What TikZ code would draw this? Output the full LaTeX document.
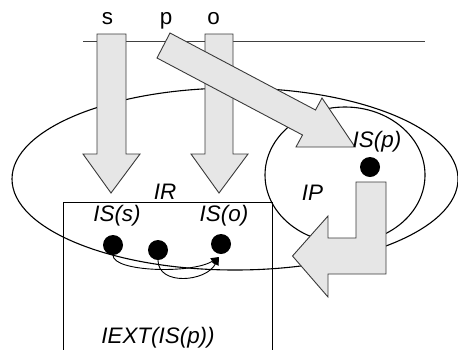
\documentclass[tikz,border=0pt]{standalone}
\usepackage{fontspec}
\setmainfont{Liberation Sans}
\usetikzlibrary{arrows.meta}
\definecolor{afill}{HTML}{E6E6E6}
\definecolor{aline}{HTML}{3A3A3A}
\begin{document}
\begin{tikzpicture}[x=1bp,y=-1bp,
  blockarrow/.style={fill=afill,draw=aline,line width=0.9bp,line join=miter},
  shapeline/.style={draw=black,line width=1.1bp},
  thinline/.style={draw=black!75,line width=0.9bp},
  dotnode/.style={circle,fill=black,minimum size=20bp,inner sep=0pt},
  lbl/.style={font=\fontsize{22.5}{26}\selectfont\itshape,inner sep=0pt,anchor=base},
  toplbl/.style={font=\fontsize{22.5}{26}\selectfont,inner sep=0pt,anchor=base},
  link/.style={line width=0.9bp,-{Triangle[length=8bp,width=7bp]}}]
\useasboundingbox (0,0) rectangle (458,349);
\clip (0,0) rectangle (458,349);
% horizontal line
\coordinate (hl) at (83,41.7);
\coordinate (hr) at (425,41.7);
\draw[thinline] (hl) -- (hr);
% ellipses
\draw[shapeline] (235,179) ellipse [x radius=223, y radius=91];
\draw[shapeline] (345,175) ellipse [x radius=80, y radius=68];
% rectangle IEXT
\draw[shapeline,line width=0.9bp] (63.5,352) -- (63.5,202) -- (272.3,202) -- (272.3,352);
% s arrow
\draw[blockarrow] (97,34) -- (97,154) -- (83,154) -- (111,193) -- (140,154) -- (126,154) -- (126,34) -- cycle;
% o arrow
\draw[blockarrow] (205,34) -- (205,154) -- (191,154) -- (219,193) -- (248,154) -- (233,154) -- (233,34) -- cycle;
% p arrow
\draw[blockarrow] (170,33) -- (315.5,110) -- (322,98) -- (355,147) -- (296,147) -- (302.5,135) -- (157,58) -- cycle;
% L arrow
\draw[blockarrow] (356,182) -- (356,238) -- (328,238) -- (328,216) -- (292.5,256) -- (328,297) -- (328,274) -- (386,274) -- (386,182) -- cycle;
% dots
\node[dotnode] (dp) at (370,167) {};
\node[dotnode] (d1) at (113,245) {};
\node[dotnode] (d2) at (158,250) {};
\node[dotnode] (d3) at (221,244) {};
\coordinate (ctip) at (219,257);
\draw[link] (d1.south) .. controls (113,272) and (192,274) .. (ctip);
\draw[link] (d2.south) .. controls (158,286) and (206,282) .. (ctip);
% labels
\node[toplbl] (ls) at (107.5,24) {s};
\node[toplbl] (lp) at (166,24) {p};
\node[toplbl] (lo) at (213.5,24) {o};
\node[lbl] (lir) at (165,199) {IR};
\node[lbl] (liss) at (117,221) {IS(s)};
\node[lbl] (liso) at (224,221) {IS(o)};
\node[lbl] (lip) at (312.5,200) {IP};
\node[lbl] (lisp) at (377,147) {IS(p)};
\node[lbl] (liext) at (158,343) {IEXT(IS(p))};
\end{tikzpicture}
\end{document}
